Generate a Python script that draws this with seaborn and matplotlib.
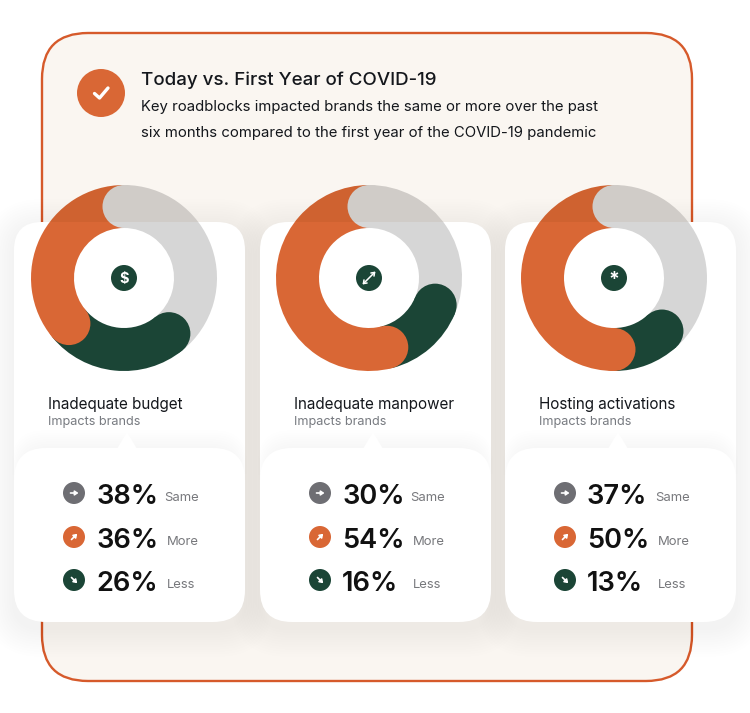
import math
import seaborn as sns
import matplotlib.pyplot as plt
from matplotlib.patches import FancyBboxPatch, Circle, Rectangle, Polygon

W, H = 750, 713

names = ['Inadequate budget', 'Inadequate manpower', 'Hosting activations']
same = [38, 30, 37]
more = [36, 54, 50]
less = [26, 16, 13]
# arc lengths as read from the drawn rings, they differ a little from the printed numbers
arc_same = [39.2, 31.2, 38.3]
arc_less = [24.8, 14.8, 11.7]
arc_more = [36, 54, 50]
row_labels = ['Same', 'More', 'Less']
icons = ['$', '', '*']
title = 'Today vs. First Year of COVID-19'
sub1 = 'Key roadblocks impacted brands the same or more over the past'
sub2 = 'six months compared to the first year of the COVID-19 pandemic'

ORANGE = '#d96735'
ORANGE_DK = '#cf6230'
GREEN = '#1b4536'
GRAY = '#d6d6d6'
GRAY_DK = '#d0ccc8'
BORDER = '#d65a2b'
BEIGE = '#faf6f1'
DARK = '#14171c'

sns.set_theme(style='white')
plt.rcParams['font.family'] = ['Inter', 'DejaVu Sans']

fig, ax = plt.subplots(figsize=(7.5, 7.13), dpi=100)
ax.set_position([0, 0, 1, 1])


def Y(py):
    return H - py


def box(x0, y0, x1, y1, r, **kw):
    p = FancyBboxPatch((x0, Y(y1)), x1 - x0, y1 - y0,
                       boxstyle=f'round,pad=0,rounding_size={r}', **kw)
    ax.add_patch(p)
    return p


def shadow(x0, y0, x1, y1, r, a, z):
    for i in range(1, 13):
        g = i * 2.4
        box(x0 - g, y0 - g + 6, x1 + g, y1 + g + 6, r + g, fc='black', ec='none', alpha=a, zorder=z)


# background panel
box(42, 33, 692, 681, 46, fc=BEIGE, ec=BORDER, lw=1.7, zorder=1)

# header
ax.add_patch(Circle((101, Y(93)), 24, fc=ORANGE, ec='none', zorder=3))
ax.plot([94.5, 99.5, 108], [Y(93.5), Y(98), Y(88)], color='white', lw=2.4, zorder=4,
        solid_capstyle='round', solid_joinstyle='round')
ax.text(141, Y(80), title, fontsize=13.5, fontweight='medium', color=DARK, va='center', zorder=4)
ax.text(141, Y(107), sub1, fontsize=10.72, color=DARK, va='center', zorder=4)
ax.text(141, Y(133), sub2, fontsize=10.72, color=DARK, va='center', zorder=4)

card_lefts = [14, 260, 505]
card_w = 231
centers = [124, 369, 614]
cy = 278
R = 93
ring = 43
split_y = 222
row_ys = [493, 537, 580]
label_dx = [150.5, 152.5, 152.5]

for i in range(3):
    x0 = card_lefts[i]
    x1 = x0 + card_w
    shadow(x0, 222, x1, 622, 28, 0.004, 2)
    box(x0, 222, x1, 600, 28, fc='white', ec='none', zorder=3)

    # soft shadow of the lower callout falling on the card
    for k in range(1, 9):
        box(x0 + 6 - k, 448 - k * 2.2, x1 - 6 + k, 500, 32, fc='black', ec='none', alpha=0.003, zorder=3.1)
    box(x0, 448, x1, 622, 32, fc='white', ec='none', zorder=3.2)
    ax.add_patch(Polygon([(x0 + 103, Y(449)), (x0 + 113, Y(432)), (x0 + 123, Y(449))],
                         fc='white', ec='none', zorder=3.2))

    # donut, one copy per background so the see-through tint is kept
    shares = [arc_same[i], arc_less[i], arc_more[i]]
    regions = [
        ((0, Y(split_y)), W, H, [GRAY_DK, GREEN, ORANGE_DK]),
        ((0, 0), W, Y(split_y), [GRAY, GREEN, ORANGE]),
    ]
    for xy, rw, rh, cols in regions:
        clip = Rectangle(xy, rw, rh, transform=ax.transData)
        wedges, _ = ax.pie(shares, colors=cols, startangle=90, counterclock=False,
                           radius=R, center=(centers[i], Y(cy)),
                           wedgeprops=dict(width=ring, linewidth=0))
        for w in wedges:
            w.set_zorder(5)
            w.set_clip_on(True)
            w.set_clip_path(clip)
        # rounded start of every segment
        for w, col in zip(wedges, cols):
            xc, yc = centers[i], Y(cy)
            t = math.radians(w.theta2)
            rm = R - ring / 2
            cap = Circle((xc + rm * math.cos(t), yc + rm * math.sin(t)), ring / 2,
                         fc=col, ec='none', zorder=6)
            ax.add_patch(cap)
            cap.set_clip_path(clip)

    # centre icon
    ax.add_patch(Circle((centers[i], Y(cy)), 13, fc=GREEN, ec='none', zorder=7))
    if icons[i]:
        ax.text(centers[i], Y(cy + 0.5 if icons[i] == '$' else cy + 2), icons[i], color='white',
                fontsize=10.5 if icons[i] == '$' else 14, fontweight='bold',
                ha='center', va='center', zorder=8)
    else:
        ax.annotate('', xy=(centers[i] + 6.5, Y(cy - 6.5)), xytext=(centers[i] - 6.5, Y(cy + 6.5)), zorder=8,
                    arrowprops=dict(arrowstyle='<->,head_width=0.13,head_length=0.18', color='white', lw=1.1,
                                    shrinkA=0, shrinkB=0))

    # card text
    ax.text(x0 + 34, Y(404), names[i], fontsize=10.95, color=DARK, va='center', zorder=8)
    ax.text(x0 + 34, Y(422), 'Impacts brands', fontsize=9.1, color='#777a80', va='center', zorder=8)

    # value rows
    vals = [same[i], more[i], less[i]]
    cols = ['#6e6e73', ORANGE, GREEN]
    dirs = [(1, 0), (0.72, 0.72), (0.72, -0.72)]
    for j in range(3):
        py = row_ys[j]
        ix = x0 + 60
        ax.add_patch(Circle((ix, Y(py)), 11, fc=cols[j], ec='none', zorder=8))
        dx, dy = dirs[j]
        ax.annotate('', xy=(ix + 4.5 * dx, Y(py) + 4.5 * dy), xytext=(ix - 3.5 * dx, Y(py) - 3.5 * dy), zorder=9,
                    arrowprops=dict(arrowstyle='-|>,head_width=0.11,head_length=0.16', color='white', lw=1.2,
                                    shrinkA=0, shrinkB=0))
        ax.text(x0 + 82, Y(py + 4), f'{vals[j]}%', fontsize=19.6, fontweight='semibold', color='#111111',
                va='center', zorder=8)
        ax.text(x0 + label_dx[j], Y(py + 5), row_labels[j], fontsize=9.4, color='#77787c', va='center', zorder=8)

ax.set_xlim(0, W)
ax.set_ylim(0, H)
ax.set_aspect('equal')
ax.axis('off')
fig.savefig('out.png', dpi=100, facecolor='white')
